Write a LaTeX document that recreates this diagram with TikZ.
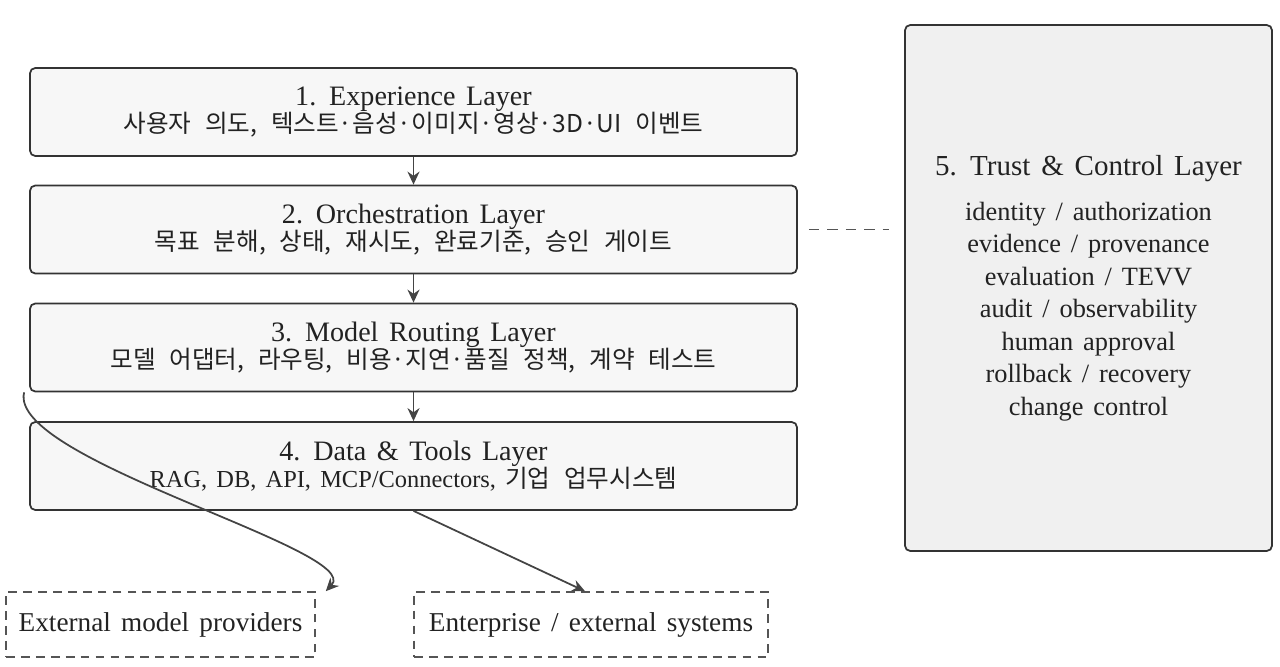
\documentclass[tikz,border=0pt]{standalone}
\usepackage{fontspec}
\setmainfont{Liberation Serif}[WordSpace=1.5]
\newfontfamily\kr{Noto Sans CJK KR}[WordSpace=2.5]
\usetikzlibrary{arrows.meta}
\definecolor{boxline}{HTML}{333333}
\definecolor{layerfill}{HTML}{F7F7F7}
\definecolor{trustfill}{HTML}{F0F0F0}
\definecolor{arrowgray}{HTML}{444444}
\definecolor{dashgray}{HTML}{555555}
\definecolor{ink}{HTML}{222222}
\newcommand{\tightlines}{\lineskiplimit-20pt\relax}
\begin{document}
\begin{tikzpicture}
\tikzstyle{layer}=[draw=boxline,line width=1pt,rounded corners=3pt,fill=layerfill,minimum width=15.34cm,minimum height=1.76cm,align=center,text=ink,font=\fontsize{16}{15.5}\selectfont\tightlines]
\tikzstyle{trustbox}=[draw=boxline,line width=1pt,rounded corners=3pt,fill=trustfill,minimum width=7.34cm,minimum height=10.52cm,align=center,text=ink,font=\fontsize{15}{18.5}\selectfont]
\tikzstyle{ext}=[draw=dashgray,line width=0.9pt,dash pattern=on 5pt off 3.5pt,minimum height=1.3cm,text=ink,font=\fontsize{15.5}{18}\selectfont]
\tikzstyle{flow}=[draw=arrowgray,line width=1pt,-{Stealth[length=2.6mm,width=2.4mm]}]
\useasboundingbox (0,0) rectangle (25.6,-13.34);
\node[layer] at (8.27,-2.24) (exp) {1. Experience Layer\\{\kr\fontsize{14}{14}\selectfont 사용자 의도, 텍스트·음성·이미지·영상·3D·UI 이벤트}};
\node[layer] at (8.27,-4.59) (orch) {2. Orchestration Layer\\{\kr\fontsize{14}{14}\selectfont 목표 분해, 상태, 재시도, 완료기준, 승인 게이트}};
\node[layer] at (8.27,-6.95) (route) {3. Model Routing Layer\\{\kr\fontsize{14}{14}\selectfont 모델 어댑터, 라우팅, 비용·지연·품질 정책, 계약 테스트}};
\node[layer] at (8.27,-9.32) (data) {4. Data \& Tools Layer\\{\fontsize{13.9}{14}\selectfont RAG, DB, API, MCP/Connectors, {\kr\fontsize{14}{14}\selectfont 기업 업무시스템}}};
\node[trustbox] at (21.77,-5.76) (trust) {{\fontsize{16.5}{17}\selectfont 5. Trust \& Control Layer}\\[7pt]
  identity / authorization\\ evidence / provenance\\ evaluation / TEVV\\ audit / observability\\
  human approval\\ rollback / recovery\\ change control};
\node[ext,minimum width=6.18cm] at (3.21,-12.49) (providers) {External model providers};
\node[ext,minimum width=7.08cm] at (11.82,-12.49) (enterprise) {Enterprise / external systems};
\draw[flow] (exp) -- (orch);
\draw[flow] (orch) -- (route);
\draw[flow] (route) -- (data);
\draw[flow] ([xshift=-0.1cm]route.south west) .. controls (0.15,-9.2) and (7.3,-11.0) .. ([xshift=0.2cm]providers.north east);
\draw[flow] (data.south) -- ([xshift=-0.12cm]enterprise.north);
\draw[dashgray,line width=1.1pt,dash pattern=on 6pt off 4.5pt,shorten <=0.22cm,shorten >=0.3cm] (orch.east) -- (orch.east -| trust.west);
\end{tikzpicture}
\end{document}
